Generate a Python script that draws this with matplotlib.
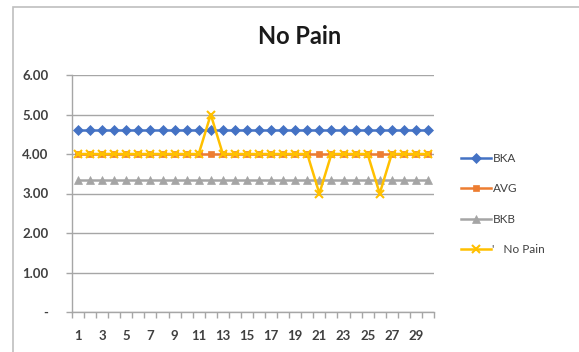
import matplotlib.pyplot as plt
import matplotlib.patches as patches
from matplotlib.ticker import FixedLocator, FuncFormatter

plt.rcParams['font.family'] = ['Lato', 'DejaVu Sans']

days = list(range(1, 31))
bka = [4.62] * 30
avg = [4.0] * 30
bkb = [3.33] * 30
no_pain = [4, 4, 4, 4, 4, 4, 4, 4, 4, 4, 4, 5, 4, 4, 4, 4, 4, 4, 4, 4,
           3, 4, 4, 4, 4, 3, 4, 4, 4, 4]

series = [
    ("BKA", bka, "#4472C4", "D", 5),
    ("AVG", avg, "#ED7D31", "s", 4.5),
    ("BKB", bkb, "#A5A5A5", "^", 5.5),
    ("'   No Pain", no_pain, "#FFC000", "x", 6),
]

fig = plt.figure(figsize=(5.79, 3.52), dpi=100)
ax = fig.add_axes([72 / 579, 1 - 312 / 352, 362 / 579, 237 / 352])

for name, vals, col, mk, ms in series:
    ax.plot(days, vals, color=col, lw=1.8, marker=mk, markersize=ms,
            markeredgewidth=1.5 if mk == "x" else 0.5, label=name, zorder=3)

ax.set_xlim(0.5, 30.5)
ax.set_ylim(0, 6)
ax.set_yticks([0, 1, 2, 3, 4, 5, 6])
ax.yaxis.set_major_formatter(FuncFormatter(lambda v, p: "-" if v == 0 else f"{v:.2f}"))
ax.grid(axis="y", color="#a6a6a6", lw=1)
ax.set_axisbelow(True)

ax.xaxis.set_major_locator(FixedLocator(list(range(1, 31, 2))))
ax.xaxis.set_minor_locator(FixedLocator([d + 0.5 for d in range(0, 31)]))
ax.tick_params(axis="x", which="major", length=0, pad=13, labelsize=9.5, labelcolor="#404040")
ax.tick_params(axis="x", which="minor", length=4, color="#a6a6a6", width=1)
ax.tick_params(axis="y", length=4, color="#a6a6a6", width=1, labelsize=9.5,
               labelcolor="#404040", pad=13)
for lbl in ax.get_xticklabels() + ax.get_yticklabels():
    lbl.set_fontweight("bold")

for side in ["top", "right"]:
    ax.spines[side].set_visible(False)
for side in ["left", "bottom"]:
    ax.spines[side].set_color("#a6a6a6")
    ax.spines[side].set_linewidth(1)

# outer chart frame, open on the right and bottom
frame = patches.Rectangle((13 / 579, -0.1), 1.2, 1.1 - 7 / 352, transform=fig.transFigure,
                          fill=False, edgecolor="#bfbfbf", lw=1.2, clip_on=False)
fig.add_artist(frame)

fig.text(300 / 579, 1 - 37 / 352, "No Pain", ha="center", va="center",
         fontsize=17, fontweight="bold", color="#1a1a1a")

fig.legend(loc="center left", bbox_to_anchor=(450 / 579, 1 - 204 / 352), frameon=False,
           fontsize=8.5, handlelength=2.6, handletextpad=0.1, labelspacing=1.65,
           labelcolor="#404040")

fig.savefig("out.png", dpi=100)
